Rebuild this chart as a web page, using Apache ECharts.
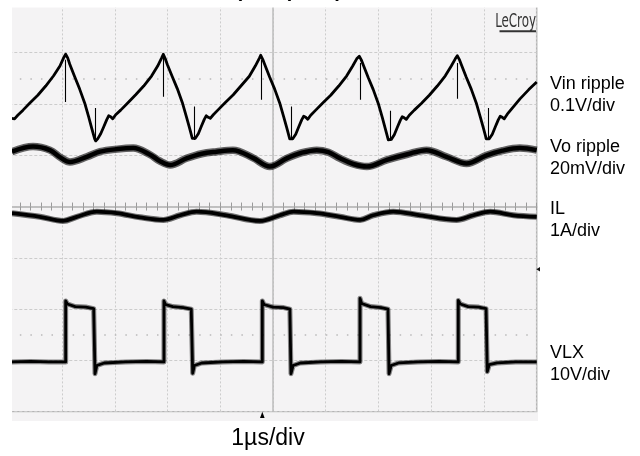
<!DOCTYPE html>
<html>
<head>
<meta charset="utf-8">
<script src="https://cdn.jsdelivr.net/npm/echarts@6/dist/echarts.min.js"></script>
<style>
html,body{margin:0;padding:0;background:#fff;}
#chart{width:640px;height:456px;}
</style>
</head>
<body>
<div id="chart"></div>
<script>
// ---------------- DATA (time in µs = divisions, level in divisions from screen centre) ----------------
const titleText = 'Waveform (CCM) Output';
const brandText = 'LeCroy';
const timeDivLabel = '1\u00b5s/div';
const channelNames = ['Vin ripple', 'Vo ripple', 'IL', 'VLX'];
const channelScales = ['0.1V/div', '20mV/div', '1A/div', '10V/div'];

const vinTrace = [
  [0.05,1.72],[0.10,1.71],[0.16,1.78],[0.26,1.88],[0.39,2.02],[0.54,2.17],[0.69,2.35],[0.84,2.55],[0.96,2.74],[1.03,2.90],[1.069,2.97],
  [1.107,2.90],[1.145,2.78],[1.24,2.53],[1.334,2.29],[1.429,2.02],[1.505,1.75],[1.562,1.53],[1.619,1.32],[1.638,1.28],[1.676,1.32],[1.733,1.42],[1.789,1.55],[1.846,1.69],[1.884,1.77],[1.922,1.75],[1.96,1.71],[2.017,1.79],[2.112,1.88],[2.245,2.02],[2.396,2.18],[2.548,2.35],[2.70,2.55],[2.813,2.74],[2.889,2.90],[2.92,2.97],
  [2.958,2.88],[2.996,2.77],[3.091,2.53],[3.185,2.30],[3.28,2.03],[3.356,1.76],[3.413,1.55],[3.47,1.33],[3.489,1.30],[3.527,1.33],[3.584,1.42],[3.64,1.56],[3.697,1.70],[3.735,1.77],[3.773,1.74],[3.811,1.72],[3.868,1.79],[3.963,1.89],[4.096,2.03],[4.247,2.18],[4.399,2.36],[4.551,2.54],[4.664,2.74],[4.74,2.89],[4.767,2.95],
  [4.805,2.87],[4.843,2.77],[4.938,2.52],[5.032,2.29],[5.127,2.02],[5.203,1.75],[5.26,1.54],[5.317,1.32],[5.336,1.29],[5.374,1.32],[5.431,1.41],[5.487,1.55],[5.544,1.69],[5.582,1.76],[5.62,1.74],[5.658,1.70],[5.715,1.78],[5.81,1.88],[5.943,2.02],[6.094,2.17],[6.246,2.35],[6.398,2.55],[6.511,2.74],[6.587,2.88],[6.636,2.93],
  [6.674,2.86],[6.712,2.76],[6.807,2.51],[6.901,2.28],[6.996,2.01],[7.072,1.74],[7.129,1.52],[7.186,1.30],[7.205,1.27],[7.243,1.31],[7.30,1.40],[7.356,1.54],[7.413,1.68],[7.451,1.75],[7.489,1.73],[7.527,1.70],[7.584,1.78],[7.679,1.88],[7.812,2.01],[7.963,2.17],[8.115,2.35],[8.267,2.55],[8.38,2.74],[8.456,2.88],[8.494,2.94],
  [8.532,2.87],[8.57,2.77],[8.665,2.52],[8.759,2.29],[8.854,2.02],[8.93,1.75],[8.987,1.54],[9.044,1.32],[9.063,1.29],[9.101,1.32],[9.158,1.41],[9.214,1.55],[9.271,1.69],[9.309,1.76],[9.347,1.74],[9.385,1.71],[9.442,1.80],[9.537,1.92],[9.683,2.10],[9.85,2.28],[10.0,2.43]
];
// switching spikes on the Vin trace: [time, from level, to level]
const vinSpikes = [
  [1.069,2.86,2.04],[2.920,2.95,2.14],[4.786,2.86,2.08],[6.650,2.80,2.08],[8.502,2.80,2.10],
  [1.638,1.30,1.92],[3.502,1.30,1.95],[5.355,1.30,1.95],[7.218,1.28,1.87],[9.083,1.30,1.92]
];
const voTrace = [
  [0.05,1.07],[0.45,1.17],[0.77,1.10],[0.98,0.95],[1.15,0.87],[1.47,0.97],[1.72,1.07],[2.05,1.12],[2.35,1.14],[2.67,1.01],[2.85,0.89],[3.05,0.81],
  [3.36,0.94],[3.65,1.03],[3.93,1.07],[4.24,1.10],[4.62,0.95],[4.94,0.78],[5.26,0.94],[5.55,1.05],[5.83,1.10],[6.05,1.06],[6.27,0.94],[6.52,0.83],
  [6.78,0.78],[7.16,0.91],[7.55,1.02],[7.91,1.10],[8.29,0.97],[8.67,0.84],[9.05,1.00],[9.35,1.09],[9.68,1.14],[10.0,1.10]
];
const ilTrace = [
  [0.05,-0.13],[0.58,-0.20],[1.02,-0.28],[1.28,-0.20],[1.66,-0.10],[2.04,-0.13],[2.48,-0.21],[2.92,-0.26],[3.24,-0.17],[3.55,-0.10],
  [4.12,-0.17],[4.75,-0.28],[5.13,-0.17],[5.39,-0.10],[5.83,-0.13],[6.27,-0.20],[6.65,-0.26],[6.90,-0.17],[7.28,-0.10],[7.79,-0.17],
  [8.48,-0.26],[8.80,-0.17],[9.12,-0.10],[9.56,-0.17],[10.0,-0.20]
];
const vlxTrace = [
  [0.05,-3.03],[0.40,-3.02],[0.75,-3.03],[1.069,-3.03],
  [1.069,-1.84],[1.10,-1.90],[1.25,-1.95],[1.45,-1.96],[1.60,-1.99],[1.625,-2.00],
  [1.625,-3.26],[1.66,-3.10],[1.80,-3.05],[2.20,-3.03],[2.60,-3.02],[2.933,-3.03],
  [2.933,-1.84],[2.96,-1.91],[3.10,-1.95],[3.30,-1.97],[3.45,-2.00],[3.477,-2.01],
  [3.477,-3.25],[3.51,-3.10],[3.65,-3.05],[4.05,-3.03],[4.45,-3.02],[4.797,-3.03],
  [4.797,-1.84],[4.83,-1.91],[5.00,-1.96],[5.20,-1.97],[5.32,-2.00],[5.341,-2.01],
  [5.341,-3.26],[5.38,-3.10],[5.52,-3.05],[5.90,-3.03],[6.30,-3.02],[6.650,-3.03],
  [6.650,-1.79],[6.68,-1.89],[6.85,-1.95],[7.05,-1.97],[7.18,-2.00],[7.200,-2.01],
  [7.200,-3.26],[7.24,-3.10],[7.38,-3.05],[7.75,-3.03],[8.15,-3.02],[8.513,-3.03],
  [8.513,-1.83],[8.55,-1.90],[8.70,-1.95],[8.90,-1.96],[9.04,-1.99],[9.063,-2.00],
  [9.063,-3.22],[9.10,-3.08],[9.25,-3.05],[9.60,-3.03],[10.0,-3.03]
];
const centreTime = 5;
const dotRowLevels = [2.5, -2.5];

// ---------------- STYLE / LAYOUT ----------------
const FONT = '"Liberation Sans", Arial, Helvetica, sans-serif';
const BG = '#f4f3f4';
const GRID_COLOR = '#cccccc';
const CENTRE_COLOR = '#bdbdbd';
const BORDER_COLOR = '#b4b4b4';
const labelX = 550;
const labelBaselines = [90, 153, 215, 359.3];
const lineGap = 21.8;

const chart = echarts.init(document.getElementById('chart'), null, {renderer: 'canvas'});

const graphics = [
  {type: 'rect', z: 0, silent: true, shape: {x: 12, y: 412.4, width: 526, height: 8.6}, style: {fill: BG}},
  {type: 'rect', z: 50, silent: true, shape: {x: 0, y: 0, width: 12, height: 456}, style: {fill: '#fff'}},
  {type: 'rect', z: 50, silent: true, shape: {x: 0, y: 0, width: 640, height: 7.5}, style: {fill: '#fff'}},
  {type: 'text', z: 60, silent: true, x: 134, y: -8.8, style: {text: titleText, font: 'bold 20px ' + FONT, fill: '#000', align: 'left', verticalAlign: 'middle'}},
  {type: 'text', z: 60, silent: true, x: 536, y: 21.5, scaleX: 0.66, style: {text: brandText, font: '20px "Liberation Sans Narrow", "DejaVu Sans Condensed", ' + FONT, fill: '#333', align: 'right', verticalAlign: 'middle'}},
  {type: 'rect', z: 60, silent: true, shape: {x: 499.5, y: 30.2, width: 36.5, height: 2}, style: {fill: '#333'}},
  {type: 'polygon', z: 60, silent: true, shape: {points: [[260, 418], [264.6, 418], [262.3, 411.8]]}, style: {fill: '#000'}},
  {type: 'polygon', z: 60, silent: true, shape: {points: [[536.3, 269.3], [540, 267], [540, 271.6]]}, style: {fill: '#111'}},
  {type: 'text', z: 60, silent: true, x: 268, y: 438.5, style: {text: timeDivLabel, font: '23px ' + FONT, fill: '#000', align: 'center', verticalAlign: 'middle'}}
];
channelNames.forEach((name, i) => {
  graphics.push({type: 'text', z: 60, silent: true, x: labelX, y: labelBaselines[i] - 6.2,
    style: {text: name, font: '18px ' + FONT, fill: '#000', align: 'left', verticalAlign: 'middle'}});
  graphics.push({type: 'text', z: 60, silent: true, x: labelX, y: labelBaselines[i] + lineGap - 6.2,
    style: {text: channelScales[i], font: '18px ' + FONT, fill: '#000', align: 'left', verticalAlign: 'middle'}});
});

const hiddenAxisParts = {axisLabel: {show: false}, axisTick: {show: false}, axisLine: {show: false}, splitLine: {show: false}};

const option = {
  animation: false,
  backgroundColor: '#ffffff',
  grid: {left: 9.3, top: 1.4, width: 527.4, height: 410.3, show: true, backgroundColor: BG,
         borderColor: BORDER_COLOR, borderWidth: 1.5, containLabel: false, outerBoundsMode: 'none'},
  xAxis: [
    {type: 'value', min: 0, max: 10, interval: 1, position: 'bottom',
     axisLabel: {show: false},
     axisLine: {show: true, onZero: true, onZeroAxisIndex: 0, lineStyle: {color: CENTRE_COLOR, width: 1.5}},
     axisTick: {show: true, length: 4, lineStyle: {color: '#9a9a9a', width: 1}},
     minorTick: {show: true, splitNumber: 5, length: 4, lineStyle: {color: '#9a9a9a', width: 1}},
     splitLine: {show: true, lineStyle: {color: GRID_COLOR, type: [2, 2], width: 1}},
     minorSplitLine: {show: false}},
    {type: 'value', min: 0, max: 10, interval: 1, position: 'top',
     axisLabel: {show: false},
     axisLine: {show: true, onZero: true, onZeroAxisIndex: 1, lineStyle: {color: CENTRE_COLOR, width: 1.5}},
     axisTick: {show: true, length: 4, lineStyle: {color: '#9a9a9a', width: 1}},
     minorTick: {show: true, splitNumber: 5, length: 4, lineStyle: {color: '#9a9a9a', width: 1}},
     splitLine: {show: false}}
  ],
  yAxis: [
    Object.assign({type: 'value', min: -4, max: 4, interval: 1}, hiddenAxisParts,
      {splitLine: {show: true, lineStyle: {color: GRID_COLOR, type: [3, 2], width: 1.2}}}),
    Object.assign({type: 'value', min: -4, max: 4, interval: 1, position: 'right'}, hiddenAxisParts)
  ],
  graphic: graphics,
  series: [
    {type: 'line', name: 'graticule', data: vlxTrace, z: 1, silent: true, showSymbol: false,
     lineStyle: {opacity: 0, width: 0},
     markLine: {z: 1, silent: true, symbol: 'none', label: {show: false}, animation: false,
       data: [
         {xAxis: centreTime, lineStyle: {color: CENTRE_COLOR, width: 1.5, type: 'solid'}},
         {yAxis: dotRowLevels[0], lineStyle: {color: '#b9b9b9', width: 1.5, type: [1.5, 9.05]}},
         {yAxis: dotRowLevels[1], lineStyle: {color: '#b9b9b9', width: 1.5, type: [1.5, 9.05]}}
       ]}},
    {type: 'line', name: channelNames[0], data: vinTrace, z: 4, showSymbol: false, silent: true,
     lineStyle: {color: '#000', width: 2.8, join: 'round'}},
    {type: 'lines', name: 'Vin spikes', coordinateSystem: 'cartesian2d', z: 4, silent: true,
     data: vinSpikes.map(s => ({coords: [[s[0], s[1]], [s[0], s[2]]]})),
     lineStyle: {color: '#000', width: 1.1, opacity: 1}},
    {type: 'line', name: channelNames[1] + ' halo', data: voTrace, z: 3, showSymbol: false, silent: true, smooth: 0.35,
     lineStyle: {color: '#000', width: 7.5, opacity: 0.6, join: 'round'}},
    {type: 'line', name: channelNames[1], data: voTrace, z: 4, showSymbol: false, silent: true, smooth: 0.35,
     lineStyle: {color: '#000', width: 4.5, join: 'round'}},
    {type: 'line', name: channelNames[2] + ' halo', data: ilTrace, z: 3, showSymbol: false, silent: true, smooth: 0.35,
     lineStyle: {color: '#000', width: 6, opacity: 0.55, join: 'round'}},
    {type: 'line', name: channelNames[2], data: ilTrace, z: 4, showSymbol: false, silent: true, smooth: 0.35,
     lineStyle: {color: '#000', width: 3.8, join: 'round'}},
    {type: 'line', name: channelNames[3] + ' halo', data: vlxTrace, z: 3, showSymbol: false, silent: true,
     lineStyle: {color: '#000', width: 5, opacity: 0.45, join: 'round'}},
    {type: 'line', name: channelNames[3], data: vlxTrace, z: 4, showSymbol: false, silent: true,
     lineStyle: {color: '#000', width: 2.8, join: 'round'}}
  ]
};
chart.setOption(option);
</script>
</body>
</html>
